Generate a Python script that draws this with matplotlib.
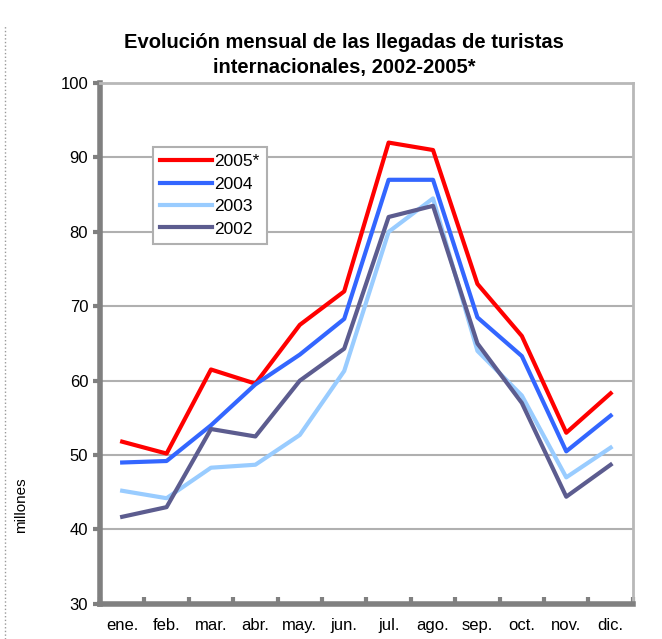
import matplotlib.pyplot as plt
from matplotlib.lines import Line2D

plt.rcParams["font.family"] = ["Liberation Sans", "DejaVu Sans"]

meses = ["ene.", "feb.", "mar.", "abr.", "may.", "jun.", "jul.", "ago.", "sep.", "oct.", "nov.", "dic."]
y2005 = [51.8, 50.2, 61.5, 59.6, 67.5, 72.0, 92.0, 91.0, 73.0, 66.0, 53.0, 58.3]
y2004 = [49.0, 49.2, 54.0, 59.5, 63.5, 68.3, 87.0, 87.0, 68.5, 63.3, 50.5, 55.3]
y2003 = [45.2, 44.2, 48.3, 48.7, 52.7, 61.3, 80.0, 84.5, 64.0, 58.0, 47.0, 51.0]
y2002 = [41.7, 43.0, 53.5, 52.5, 60.0, 64.3, 82.0, 83.5, 65.0, 57.0, 44.4, 48.7]

fig = plt.figure(figsize=(6.62, 6.39), dpi=100)
ax = fig.add_axes([0.151, 0.055, 0.805, 0.815])

x = range(len(meses))
ax.plot(x, y2005, color="#ff0000", lw=3, label="2005*")
ax.plot(x, y2004, color="#3366ff", lw=3, label="2004")
ax.plot(x, y2003, color="#99ccff", lw=3, label="2003")
ax.plot(x, y2002, color="#5c5c8f", lw=3, label="2002")

ax.set_xlim(-0.5, 11.5)
ax.set_ylim(30, 100)
ax.set_yticks(range(30, 101, 10))
ax.set_xticks(list(x))
ax.set_xticklabels(meses, fontsize=12)
ax.set_xticks([i + 0.5 for i in range(-1, 12)], minor=True)
ax.tick_params(axis="x", which="major", length=0, pad=10)
ax.tick_params(axis="x", which="minor", direction="in", length=5, width=3, color="#808080")
ax.tick_params(axis="y", direction="out", length=5, width=3, color="#808080", labelsize=12)
ax.yaxis.grid(True, color="#b0b0b0", lw=1.5)
ax.set_axisbelow(True)

ax.spines["left"].set_color("#808080")
ax.spines["left"].set_linewidth(4)
ax.spines["bottom"].set_color("#808080")
ax.spines["bottom"].set_linewidth(4)
ax.spines["top"].set_color("#b8b8b8")
ax.spines["top"].set_linewidth(2)
ax.spines["right"].set_color("#b8b8b8")
ax.spines["right"].set_linewidth(2)

ax.set_ylabel("millones", fontsize=11)
ax.yaxis.set_label_coords(-0.135, 0.19)

leg = ax.legend(loc="upper left", bbox_to_anchor=(0.099, 0.877), borderaxespad=0,
                fontsize=12.5, handlelength=3.0, handletextpad=0.15, borderpad=0.4,
                labelspacing=0.42, fancybox=False, framealpha=1)
leg.get_frame().set_edgecolor("#b0b0b0")
leg.get_frame().set_linewidth(1.5)

fig.text(0.52, 0.914, "Evolución mensual de las llegadas de turistas\ninternacionales, 2002-2005*",
         ha="center", va="center", fontsize=14.5, fontweight="bold", linespacing=1.45)

# borde punteado de la página
fig.add_artist(Line2D([0.008, 0.008], [0.0, 0.96], color="#999999", lw=1, ls=":"))

fig.savefig("out.png", dpi=100)
